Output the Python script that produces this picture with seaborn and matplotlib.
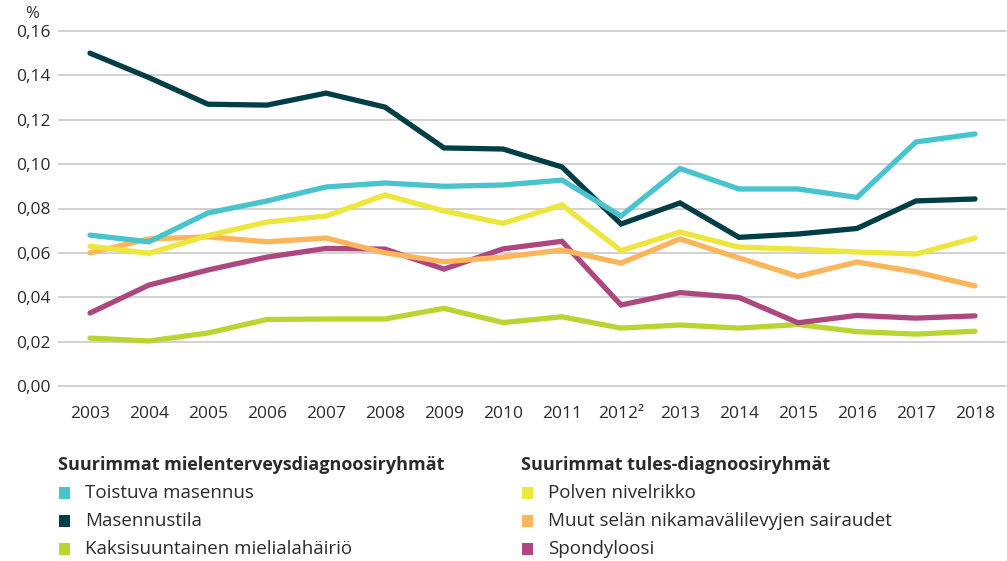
import numpy as np
import pandas as pd
import matplotlib
matplotlib.use("Agg")
import matplotlib.pyplot as plt
from matplotlib.patches import Rectangle
import seaborn as sns

years = ["2003", "2004", "2005", "2006", "2007", "2008", "2009", "2010",
         "2011", "2012²", "2013", "2014", "2015", "2016", "2017", "2018"]

toistuva_masennus = [0.068, 0.065, 0.078, 0.0834, 0.0897, 0.0915, 0.090, 0.0906,
                     0.0928, 0.0766, 0.098, 0.0888, 0.0888, 0.085, 0.110, 0.1136]
masennustila = [0.150, 0.139, 0.127, 0.1266, 0.132, 0.1257, 0.1073, 0.1068,
                0.0987, 0.073, 0.0825, 0.067, 0.0685, 0.071, 0.0834, 0.0843]
kaksisuuntainen = [0.0216, 0.0203, 0.0239, 0.0300, 0.0302, 0.0302, 0.0350, 0.0286,
                   0.0312, 0.0261, 0.0275, 0.0261, 0.0277, 0.0245, 0.0234, 0.0247]
polven_nivelrikko = [0.063, 0.0598, 0.0678, 0.0739, 0.0766, 0.0861, 0.0789, 0.0733,
                     0.0816, 0.0610, 0.0694, 0.0626, 0.0617, 0.0604, 0.0595, 0.0667]
muut_selan = [0.0600, 0.0663, 0.0672, 0.0650, 0.0667, 0.0600, 0.0560, 0.0581,
              0.0613, 0.0554, 0.0663, 0.0577, 0.0494, 0.0559, 0.0514, 0.0451]
spondyloosi = [0.0329, 0.0455, 0.0523, 0.0581, 0.0620, 0.0617, 0.0527, 0.0618,
               0.0652, 0.0365, 0.0421, 0.0399, 0.0285, 0.0318, 0.0306, 0.0316]

series_names = ["Toistuva masennus", "Masennustila", "Kaksisuuntainen mielialahäiriö",
                "Polven nivelrikko", "Muut selän nikamavälilevyjen sairaudet", "Spondyloosi"]
series_values = [toistuva_masennus, masennustila, kaksisuuntainen,
                 polven_nivelrikko, muut_selan, spondyloosi]
colors = ["#49C3CE", "#003E47", "#BAD532", "#EDE63C", "#FDB55B", "#AE4780"]

ytick_vals = [0.00, 0.02, 0.04, 0.06, 0.08, 0.10, 0.12, 0.14, 0.16]
ytick_labels = ["0,00", "0,02", "0,04", "0,06", "0,08", "0,10", "0,12", "0,14", "0,16"]

group_titles = ["Suurimmat mielenterveysdiagnoosiryhmät", "Suurimmat tules-diagnoosiryhmät"]

rows = []
for name, vals in zip(series_names, series_values):
    for i, v in enumerate(vals):
        rows.append({"idx": i, "value": v, "series": name})
df = pd.DataFrame(rows)

sns.set_theme(style="white")
plt.rcParams["font.family"] = ["Open Sans", "DejaVu Sans"]
TXT = "#2b2b2b"

W, H = 1007, 561
fig = plt.figure(figsize=(W / 100, H / 100), dpi=100)
ax = fig.add_axes([58 / W, 1 - 388 / H, (1006 - 58) / W, (388 - 29) / H])

order = [2, 5, 4, 3, 1, 0]
for k in order:
    sub = df[df["series"] == series_names[k]]
    sns.lineplot(data=sub, x="idx", y="value", color=colors[k], linewidth=3.8,
                 ax=ax, legend=False, solid_capstyle="round", solid_joinstyle="miter")

ppu = 355 / 0.16
ax.set_ylim(-2 / ppu, 0.16 + 2 / ppu)
ax.set_xlim((58 - 90) / 59, (1006 - 90) / 59)
ax.set_yticks(ytick_vals)
ax.set_yticklabels(ytick_labels)
ax.set_xticks(range(len(years)))
ax.set_xticklabels(years)
ax.set_xlabel("")
ax.set_ylabel("")
for s in ax.spines.values():
    s.set_visible(False)
ax.grid(axis="y", color="#C9C9C9", linewidth=1.2)
ax.grid(axis="x", visible=False)
ax.set_axisbelow(True)
ax.tick_params(axis="y", length=0, pad=5, labelsize=12.5, labelcolor=TXT)
ax.tick_params(axis="x", length=0, pad=13, labelsize=12.5, labelcolor=TXT)
for lbl in ax.get_yticklabels():
    lbl.set_horizontalalignment("right")

fig.text(32 / W, 1 - 14 / H, "%", ha="center", va="center", fontsize=12, color=TXT)

col_x = [58, 521]
for c in range(2):
    fig.text(col_x[c] / W, 1 - 465 / H, group_titles[c], ha="left", va="center",
             fontsize=13, fontweight="bold", color=TXT)
    for r in range(3):
        k = c * 3 + r
        yc = 493 + r * 28
        fig.patches.append(Rectangle(((col_x[c] + 1) / W, 1 - (yc + 6) / H), 11 / W, 12 / H,
                                     transform=fig.transFigure, facecolor=colors[k],
                                     edgecolor="none", figure=fig))
        fig.text((col_x[c] + 27) / W, 1 - yc / H, series_names[k], ha="left", va="center",
                 fontsize=13.5, color=TXT)

fig.savefig("out.png", dpi=100)
